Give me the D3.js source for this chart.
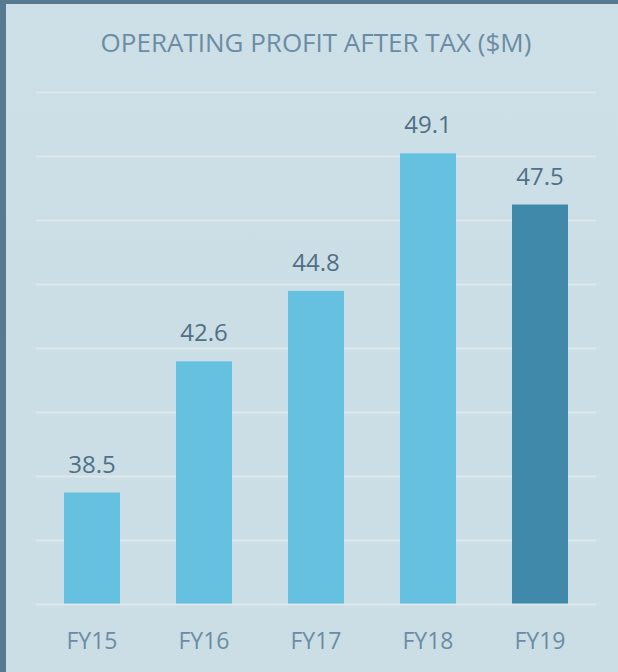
<!DOCTYPE html>
<html>
<head>
<meta charset="utf-8">
<script src="https://cdn.jsdelivr.net/npm/d3@7"></script>
<style>
  html, body { margin: 0; padding: 0; background: #567a90; }
  svg { display: block; }
</style>
</head>
<body>
<svg id="chart" width="618" height="672"></svg>
<script>
const years = ["FY15", "FY16", "FY17", "FY18", "FY19"];
const profit = [38.5, 42.6, 44.8, 49.1, 47.5];
const gridTicks = [35, 37, 39, 41, 43, 45, 47, 49, 51];
const chartTitle = "OPERATING PROFIT AFTER TAX ($M)";

function drawChart() {
  const svg = d3.select("#chart");
  const W = +svg.attr("width");
  const H = +svg.attr("height");

  // panel, with the dark frame showing on left and top
  const defs = svg.append("defs");
  const grad = defs.append("linearGradient")
    .attr("id", "bg").attr("x1", 0).attr("y1", 0).attr("x2", 0).attr("y2", 1);
  grad.append("stop").attr("offset", "0%").attr("stop-color", "#cde0e7");
  grad.append("stop").attr("offset", "50%").attr("stop-color", "#cbdee5");
  grad.append("stop").attr("offset", "100%").attr("stop-color", "#cbdee5");

  svg.append("rect").attr("width", W).attr("height", H).attr("fill", "#567a90");
  svg.append("rect")
    .attr("x", 6).attr("y", 4)
    .attr("width", W - 6).attr("height", H - 4)
    .attr("fill", "url(#bg)");

  const margin = { top: 92.5, left: 36, right: 22, bottom: 67.5 };
  const x = d3.scaleBand()
    .domain(years)
    .range([margin.left, W - margin.right])
    .paddingInner(0.5)
    .paddingOuter(0.25);
  const y = d3.scaleLinear()
    .domain([35, 51])
    .range([H - margin.bottom, margin.top]);

  // title
  svg.append("text")
    .attr("x", (margin.left + W - margin.right) / 2)
    .attr("y", 52)
    .attr("text-anchor", "middle")
    .attr("font-family", "'Open Sans', sans-serif")
    .attr("font-size", 26)
    .attr("fill", "#6b8ca4")
    .text(chartTitle);

  // grid
  svg.selectAll(".grid")
    .data(gridTicks)
    .enter()
    .append("line")
    .attr("class", "grid")
    .attr("x1", margin.left)
    .attr("x2", W - margin.right)
    .attr("y1", d => y(d))
    .attr("y2", d => y(d))
    .attr("stroke", "#dde7ec")
    .attr("stroke-width", 2);

  // bars
  svg.selectAll(".bar")
    .data(profit)
    .enter()
    .append("rect")
    .attr("class", "bar")
    .attr("x", (d, i) => x(years[i]))
    .attr("y", d => y(d))
    .attr("width", x.bandwidth())
    .attr("height", d => y(35) - y(d) - 1)
    .attr("fill", (d, i) => i === years.length - 1 ? "#4089ab" : "#65c1df");

  // value labels
  svg.selectAll(".val")
    .data(profit)
    .enter()
    .append("text")
    .attr("class", "val")
    .attr("x", (d, i) => x(years[i]) + x.bandwidth() / 2)
    .attr("y", d => y(d) - 20)
    .attr("text-anchor", "middle")
    .attr("font-family", "'Open Sans', sans-serif")
    .attr("font-size", 24)
    .attr("fill", "#516f86")
    .text(d => d.toFixed(1));

  // x axis labels
  const axis = svg.append("g")
    .attr("transform", `translate(0, ${y(35)})`)
    .call(d3.axisBottom(x).tickSize(0).tickPadding(28));
  axis.select(".domain").remove();
  axis.selectAll("text")
    .attr("font-family", "'Open Sans', sans-serif")
    .attr("font-size", 23)
    .attr("fill", "#6b8ca4");
}

drawChart();
</script>
</body>
</html>
